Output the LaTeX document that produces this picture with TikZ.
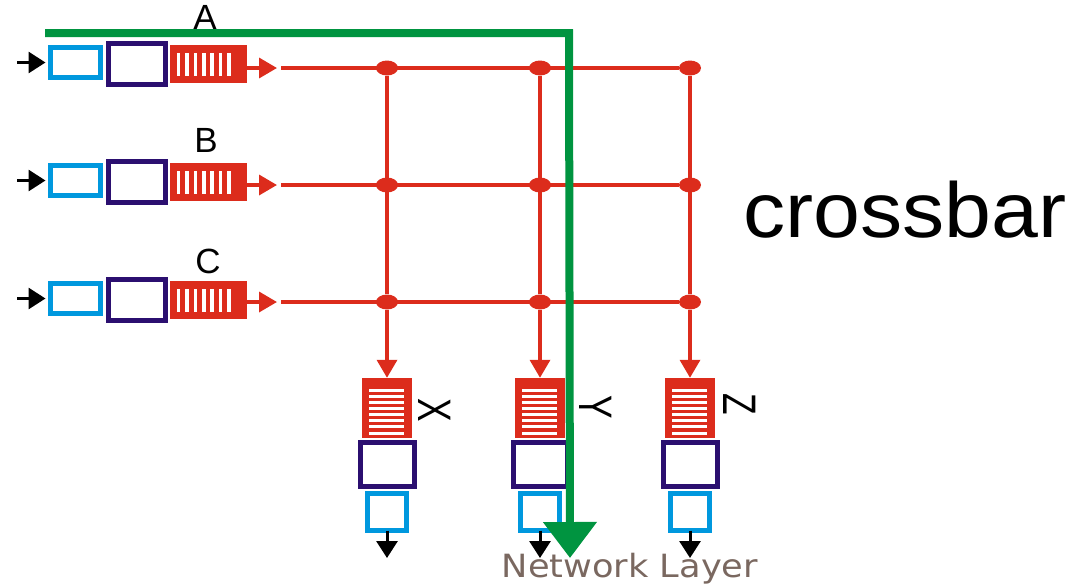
\documentclass[tikz,border=0pt]{standalone}
\usepackage{fontspec}
\setmainfont{Liberation Sans}
\newfontfamily\netfont{DejaVu Sans}
\usetikzlibrary{arrows.meta,shapes.geometric}

\definecolor{xred}{RGB}{220,44,28}
\definecolor{xgreen}{RGB}{0,148,64}
\definecolor{xdblue}{RGB}{43,15,112}
\definecolor{xlblue}{RGB}{0,152,222}
\definecolor{xbrown}{RGB}{122,104,96}

\tikzset{
  inport/.style={draw=xlblue, line width=5pt, minimum width=50pt, minimum height=30pt, inner sep=0pt},
  outport/.style={draw=xlblue, line width=5pt, minimum width=39pt, minimum height=37pt, inner sep=0pt},
  infab/.style={draw=xdblue, line width=5pt, minimum width=57pt, minimum height=41pt, inner sep=0pt},
  outfab/.style={draw=xdblue, line width=5pt, minimum width=54pt, minimum height=44pt, inner sep=0pt},
  inq/.style={fill=xred, minimum width=77pt, minimum height=38pt, inner sep=0pt},
  outq/.style={fill=xred, minimum width=50pt, minimum height=60pt, inner sep=0pt},
  wire/.style={draw=xred, line width=4.5pt},
  redarrow/.style={draw=xred, line width=3.5pt, -{Triangle[length=18pt,width=20pt]}},
  blkarrow/.style={draw=black, line width=3pt, -{Triangle[length=17pt,width=21pt]}},
  xdot/.style={ellipse, fill=xred, minimum width=22pt, minimum height=15pt, inner sep=0pt},
  bus/.style={draw=xgreen, line width=8pt, line join=miter, -{Triangle[length=36pt,width=52pt]}},
  lbl/.style={font=\fontsize{35}{36}\selectfont, inner sep=0pt},
  olbl/.style={font=\fontsize{47}{48}\selectfont, inner sep=0pt, rotate=-90, xscale=0.75}
}

\begin{document}
\begin{tikzpicture}[x=1pt,y=-1pt]
\useasboundingbox (0,0) rectangle (1071,587);

% input ports
\foreach \r/\y/\yl in {A/64/68,B/182/185,C/300/302}{
  \node[inport] (in\r) at (75.5,\y-1.5) {};
  \node[infab] (fab\r) at (137,\y) {};
  \node[inq] (q\r) at (208.5,\y) {};
  \foreach \i in {0,...,6}
    \fill[white] ([shift={(7+8.4*\i,-11.5)}]q\r.west) rectangle +(3.5,23);
  \coordinate (src\r) at (17,\y-1.5);
  \draw[blkarrow, shorten >=2.5pt] (src\r) -- (in\r.west);
  \coordinate (qo\r) at (247,\yl);
  \coordinate (tip\r) at (277,\yl);
  \draw[redarrow] (qo\r) -- (tip\r);
  \coordinate (h\r) at (281,\yl);
  \foreach \c/\x in {X/387,Y/540,Z/690}
    \node[xdot] (d\r\c) at (\x,\yl) {};
  \draw[wire] (h\r) -- (d\r Z);
}

% output ports
\foreach \c/\x in {X/387,Y/540,Z/690}{
  \node[outq] (oq\c) at (\x,408) {};
  \foreach \i in {0,...,7}
    \fill[white] ([shift={(-18,11+6.1*\i)}]oq\c.north) rectangle +(35,3);
  \node[outfab] (ofab\c) at (\x,464.5) {};
  \node[outport] (op\c) at (\x,512) {};
  \coordinate (out\c) at (\x,558);
  \draw[blkarrow, shorten <=-2.5pt] (op\c.south) -- (out\c);
  \draw[wire] (dA\c) -- (dC\c);
  \draw[redarrow] (dC\c) -- (oq\c.north);
}

% labels
\node[lbl] (labA) at (205,17) {A};
\node[lbl] (labB) at (206,140) {B};
\node[lbl] (labC) at (208,261) {C};

\node[olbl] (labX) at (435,410) {X};
\node[olbl] (labY) at (596,407) {Y};
\node[olbl] (labZ) at (740,404) {Z};

\node[anchor=base west, font=\fontsize{78}{80}\selectfont, inner sep=0pt, xscale=1.08] (title) at (743,237) {crossbar};

% green path through the fabric
\coordinate (gstart) at (45,33);
\coordinate (gcorner) at (569,33);
\coordinate (gend) at (570,558);
\draw[bus] (gstart) -- (gcorner) -- (gend);

\node[font=\netfont\fontsize{32}{33}\selectfont, text=xbrown, inner sep=0pt, xscale=1.1] (net) at (630,569) {Network Layer};
\end{tikzpicture}
\end{document}
